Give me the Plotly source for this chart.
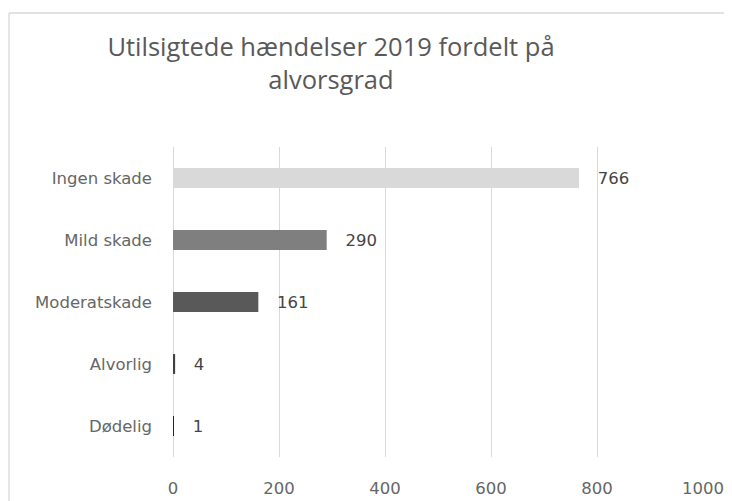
import plotly.graph_objects as go

categories = ["Ingen skade", "Mild skade", "Moderatskade", "Alvorlig", "Dødelig"]
values = [766, 290, 161, 4, 1]
bar_colors = ["#d9d9d9", "#7f7f7f", "#595959", "#404040", "#262626"]
x_ticks = [0, 200, 400, 600, 800, 1000]

title_text = "Utilsigtede hændelser 2019 fordelt på<br>alvorsgrad"

# page body has an 8px default margin, so the figure is sized/offset to compensate
W, H = 724, 493
ml, mr, mt, mb = 165, 29, 139, 44
pw = W - ml - mr
ph = H - mt - mb

label_font = "DejaVu Sans, Verdana, sans-serif"

fig = go.Figure(
    go.Bar(
        x=values,
        y=categories,
        orientation="h",
        width=0.32,
        marker=dict(color=bar_colors, line=dict(width=0)),
        text=[f"\u00a0\u00a0\u00a0{v}" for v in values],
        textposition="outside",
        textfont=dict(family=label_font, size=16.5, color="#454545"),
        cliponaxis=False,
        hoverinfo="skip",
    )
)

# light chart-area border (left and top edges visible in the reference)
bx0 = (1 - ml) / pw
by1 = 1 + (mt - 5) / ph
fig.add_shape(type="line", xref="paper", yref="paper", x0=bx0, x1=bx0, y0=-0.3, y1=by1,
              line=dict(color="#d9d9d9", width=1.3))
fig.add_shape(type="line", xref="paper", yref="paper", x0=bx0, x1=1.2, y0=by1, y1=by1,
              line=dict(color="#d9d9d9", width=1.3))

fig.update_layout(
    width=W,
    height=H,
    margin=dict(l=ml, r=mr, t=mt, b=mb),
    paper_bgcolor="white",
    plot_bgcolor="white",
    showlegend=False,
    title=dict(
        text=title_text,
        x=323 / W,
        xanchor="center",
        y=1 - 48 / H,
        yanchor="top",
        font=dict(family="'Open Sans', Lato, sans-serif", size=25.5, color="#595959"),
    ),
    xaxis=dict(
        range=[0, 1000],
        tickvals=x_ticks,
        ticktext=[str(t) for t in x_ticks],
        showgrid=True,
        gridcolor="#d9d9d9",
        gridwidth=1,
        zeroline=True,
        zerolinecolor="#d9d9d9",
        zerolinewidth=1,
        showline=False,
        ticks="",
        automargin=False,
        ticklabelstandoff=19,
        tickfont=dict(family=label_font, size=16.5, color="#666666"),
    ),
    yaxis=dict(
        categoryorder="array",
        categoryarray=categories,
        autorange="reversed",
        showgrid=False,
        zeroline=False,
        showline=False,
        ticks="",
        automargin=False,
        ticklabelstandoff=20,
        tickfont=dict(family=label_font, size=16.5, color="#666666"),
    ),
)

fig.write_html("out.html")
